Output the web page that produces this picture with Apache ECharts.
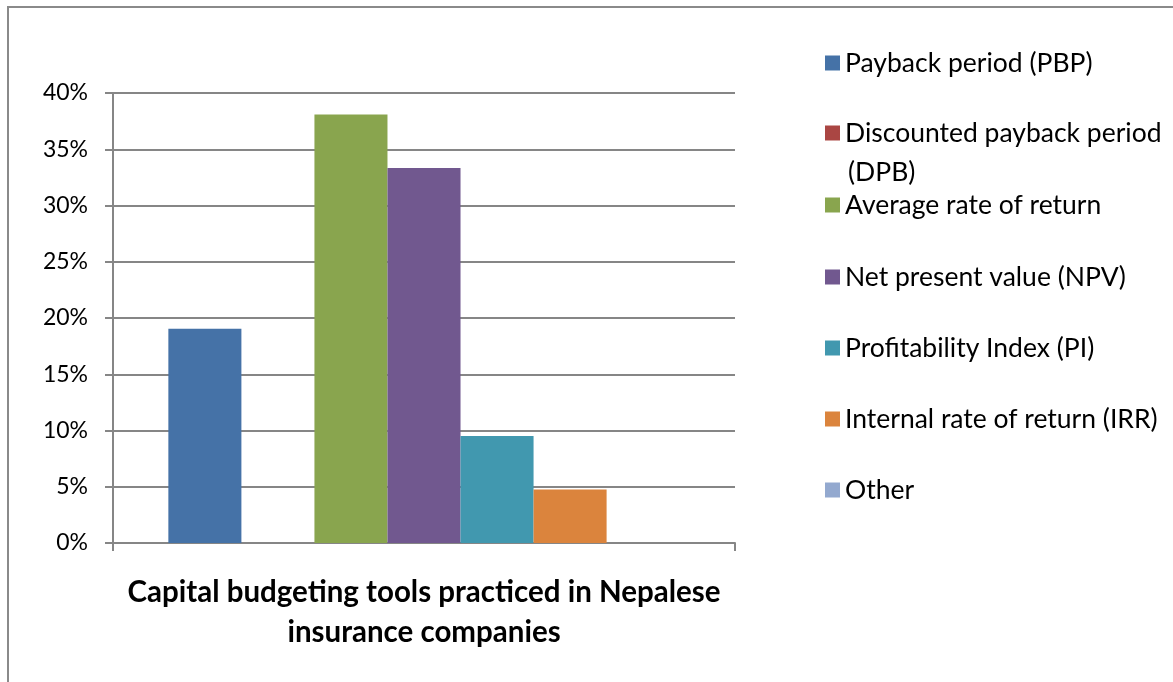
<!DOCTYPE html>
<html>
<head>
<meta charset="utf-8">
<script src="https://cdn.jsdelivr.net/npm/echarts@6/dist/echarts.min.js"></script>
<style>
  html, body { margin: 0; padding: 0; background: #fff; }
  #chart { width: 1173px; height: 682px; }
</style>
</head>
<body>
<div id="chart"></div>
<script>
// Share of insurance companies using each capital budgeting tool
const categories = ['Capital budgeting tools'];
const seriesNames = [
  'Payback period (PBP)',
  'Discounted payback period (DPB)',
  'Average rate of return',
  'Net present value (NPV)',
  'Profitability Index (PI)',
  'Internal rate of return (IRR)',
  'Other'
];
const seriesValues = [0.1905, 0, 0.3810, 0.3333, 0.0952, 0.0476, 0];
const seriesColors = ['#4572A7', '#AA4643', '#89A54E', '#71588F', '#4198AF', '#DB843D', '#93A9CF'];
const yTicks = { min: 0, max: 0.4, interval: 0.05 };
const chartTitle = 'Capital budgeting tools practiced in Nepalese\ninsurance companies';

const FONT = 'Lato';
const AXIS_GRAY = '#868686';
const LEGEND_SIZE = 26.5;

// legend rows (vertical centre of each entry)
const legendCenters = [63, 133, 205, 277, 348, 419, 490];

const legends = seriesNames.map((name, i) => ({
  data: [name],
  left: 825,
  top: legendCenters[i] - 15,
  padding: 0,
  icon: 'rect',
  itemWidth: 15,
  itemHeight: 15,
  itemGap: 8,
  selectedMode: false,
  formatter: n => (n === 'Discounted payback period (DPB)' ? 'Discounted payback period' : n),
  textStyle: { fontFamily: FONT, fontSize: LEGEND_SIZE, color: '#000', lineHeight: 30, padding: [0, 0, 0, 0] }
}));

const series = seriesNames.map((name, i) => ({
  name: name,
  type: 'bar',
  data: [seriesValues[i]],
  itemStyle: { color: seriesColors[i] },
  barGap: '0%',
  barCategoryGap: '17.8%',
  emphasis: { disabled: true }
}));

const chart = echarts.init(document.getElementById('chart'), null, { renderer: 'canvas' });
chart.setOption({
  animation: false,
  backgroundColor: '#fff',
  grid: { left: 113, right: 438, top: 93, bottom: 139, containLabel: false },
  legend: legends,
  xAxis: {
    type: 'category',
    data: categories,
    boundaryGap: true,
    axisLine: { lineStyle: { color: AXIS_GRAY, width: 2 } },
    axisTick: { show: true, length: 8, alignWithLabel: false, lineStyle: { color: AXIS_GRAY, width: 2 } },
    axisLabel: { show: false },
    name: chartTitle,
    nameLocation: 'middle',
    nameGap: 29,
    nameTextStyle: {
      fontFamily: FONT, fontSize: 29.5, fontWeight: 'bold', color: '#000',
      lineHeight: 40, align: 'center', verticalAlign: 'top'
    }
  },
  yAxis: {
    type: 'value',
    min: yTicks.min,
    max: yTicks.max,
    interval: yTicks.interval,
    axisLine: { show: true, lineStyle: { color: AXIS_GRAY, width: 2 } },
    axisTick: { show: true, inside: false, length: 8, lineStyle: { color: AXIS_GRAY, width: 2 } },
    splitLine: { show: true, lineStyle: { color: AXIS_GRAY, width: 2 } },
    axisLabel: {
      margin: 25,
      fontFamily: FONT, fontSize: 23, color: '#000',
      formatter: v => Math.round(v * 100) + '%'
    }
  },
  series: series,
  graphic: [
    {
      type: 'rect',
      shape: { x: 8, y: 7, width: 1300, height: 800 },
      style: { fill: 'none', stroke: '#8a8a8a', lineWidth: 2 },
      silent: true,
      z: -10
    },
    {
      type: 'text',
      left: 848,
      top: 172 - 15,
      style: { text: '(DPB)', fontFamily: FONT, fontSize: LEGEND_SIZE, fill: '#000', lineHeight: 30 },
      silent: true
    }
  ]
});
</script>
</body>
</html>
